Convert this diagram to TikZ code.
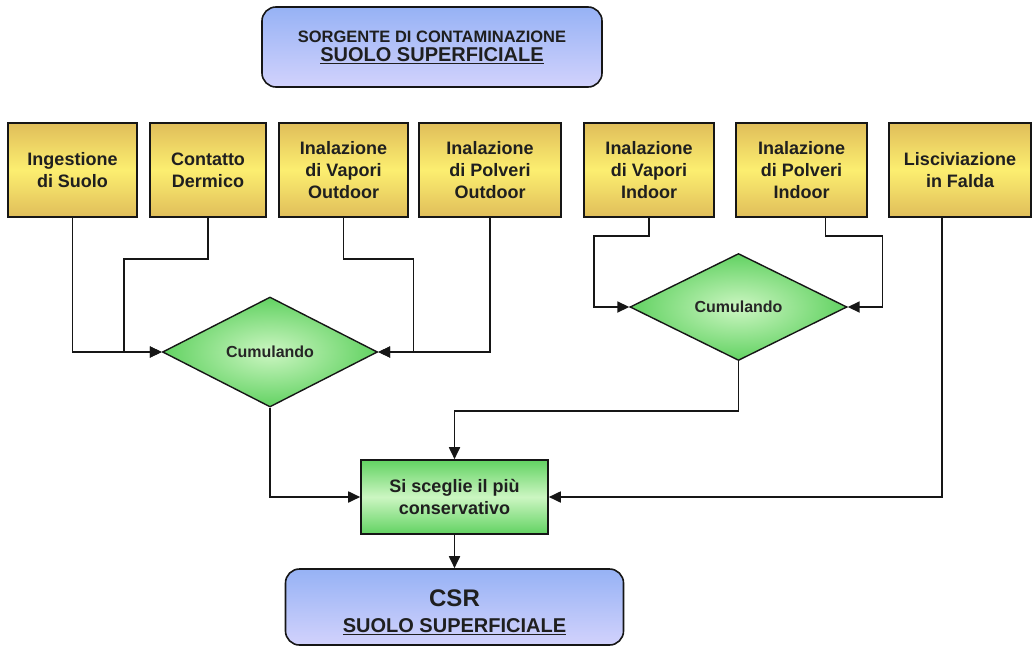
\documentclass[tikz,border=0pt]{standalone}
\usepackage{fontspec}
\setmainfont{Liberation Sans}
\usetikzlibrary{shapes.geometric,arrows.meta}

\definecolor{goldedge}{RGB}{224,190,90}
\definecolor{goldmid}{RGB}{252,238,112}
\definecolor{bluetop}{RGB}{150,178,245}
\definecolor{bluebot}{RGB}{210,210,252}
\definecolor{greenedge}{RGB}{98,210,98}
\definecolor{greenmid}{RGB}{204,246,194}
\definecolor{inkline}{RGB}{22,22,22}

\begin{document}
\begin{tikzpicture}[x=1pt,y=-1pt,>={Triangle[length=12pt,width=11pt]},
    pathway/.style={draw=inkline,line width=1.6pt,top color=goldedge,bottom color=goldedge,middle color=goldmid,minimum height=94pt,inner sep=0pt,align=center,text=black!88,font=\bfseries\fontsize{18}{22}\selectfont},
    source/.style={draw=inkline,line width=1.6pt,rounded corners=14pt,top color=bluetop,bottom color=bluebot,inner sep=0pt,align=center,text=black!88},
    merge/.style={diamond,draw=inkline,line width=1.4pt,inner color=greenmid,outer color=greenedge,inner sep=0pt,text=black!85,font=\bfseries\fontsize{16}{19}\selectfont},
    choice/.style={draw=inkline,line width=1.6pt,top color=greenedge,bottom color=greenedge,middle color=greenmid,inner sep=0pt,align=center,text=black!88,font=\bfseries\fontsize{18}{22}\selectfont},
    link/.style={draw=inkline,line width=1.8pt}]
    \useasboundingbox (0,0) rectangle (1033,645);
    % source and result
    \node[source,minimum width=340pt,minimum height=80pt,font=\bfseries\fontsize{16.5}{19}\selectfont] (src) at (432,47) {SORGENTE DI CONTAMINAZIONE\\\fontsize{20}{19}\selectfont\underline{SUOLO SUPERFICIALE}};
    \node[source,minimum width=338pt,minimum height=76pt,font=\bfseries\fontsize{24}{26}\selectfont] (csr) at (454.5,607) {\rule{0pt}{27.5pt}CSR\\\fontsize{20}{26}\selectfont\underline{SUOLO SUPERFICIALE}};
    % exposure pathways
    \node[pathway,minimum width=129pt] (ing) at (72.5,170) {Ingestione\\di Suolo};
    \node[pathway,minimum width=116pt] (derm) at (208,170) {Contatto\\Dermico};
    \node[pathway,minimum width=129pt] (vapout) at (343.5,170) {Inalazione\\di Vapori\\Outdoor};
    \node[pathway,minimum width=142pt] (polout) at (490,170) {Inalazione\\di Polveri\\Outdoor};
    \node[pathway,minimum width=130pt] (vapin) at (649,170) {Inalazione\\di Vapori\\Indoor};
    \node[pathway,minimum width=131pt] (polin) at (801.5,170) {Inalazione\\di Polveri\\Indoor};
    \node[pathway,minimum width=142pt] (falda) at (960,170) {Lisciviazione\\in Falda};
    % merging
    \node[merge,minimum width=215pt,minimum height=110pt] (cumout) at (270,352) {Cumulando};
    \node[merge,minimum width=217pt,minimum height=107pt] (cumin) at (738.5,307) {Cumulando};
    \node[choice,minimum width=187pt,minimum height=74pt] (cons) at (454.5,497) {Si sceglie il più\\conservativo};

    \draw[link,->] (ing.south) |- (cumout.west);
    \draw[link,->] (derm.south) |- ++(-84,41) |- (cumout.west);
    \draw[link,->] (vapout.south) |- ++(70,41) |- (cumout.east);
    \draw[link,->] (polout.south) |- (cumout.east);
    \draw[link,->] (vapin.south) |- ++(-55,18) |- (cumin.west);
    \draw[link,->] ([xshift=24pt]polin.south) |- ++(57,18) |- (cumin.east);
    \draw[link,->] (cumout.south) |- (cons.west);
    \draw[link,->] (cumin.south) -- ++(0,50) -| (cons.north);
    \draw[link,->] ([xshift=-18pt]falda.south) |- (cons.east);
    \draw[link,->] (cons.south) -- (csr.north);
\end{tikzpicture}
\end{document}
